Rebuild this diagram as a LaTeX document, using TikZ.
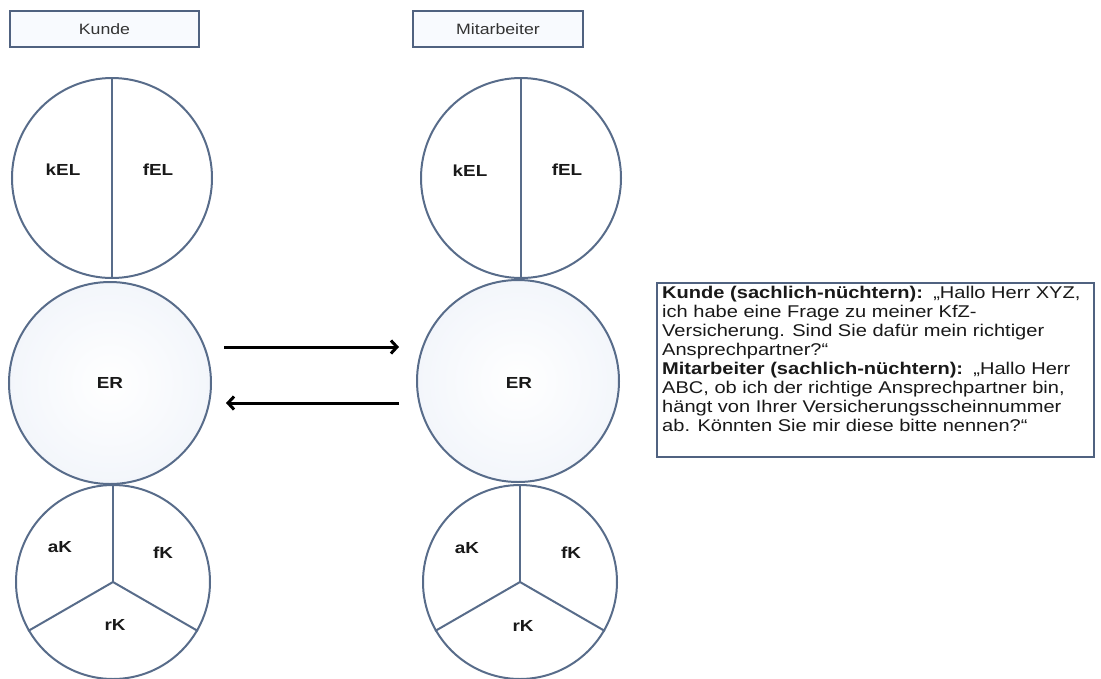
\documentclass[tikz,border=0pt]{standalone}
\usepackage{fontspec}
\setmainfont[FakeStretch=1.18]{Liberation Sans}
\usetikzlibrary{arrows.meta,shapes.geometric}
\definecolor{ring}{RGB}{88,108,138}
\definecolor{boxline}{RGB}{80,98,128}
\definecolor{boxfill}{RGB}{248,250,254}
\definecolor{erfill}{RGB}{243,246,251}
\definecolor{ink}{RGB}{25,25,25}
\tikzset{
  ring/.style={circle, draw=ring, line width=2pt, inner sep=0pt},
  divider/.style={draw=ring, line width=2pt},
  lbl/.style={font=\fontsize{16}{18}\selectfont\bfseries, text=ink, inner sep=0pt},
  titlebox/.style={draw=boxline, line width=1.6pt, fill=boxfill,
    font=\fontsize{15}{17}\selectfont, text=black!80, inner sep=0pt},
  arr/.style={draw=black, line width=3pt, -{Straight Barb[length=6pt,width=13pt,line width=3pt]}},
}
\begin{document}
\begin{tikzpicture}[x=1pt,y=-1pt]
\useasboundingbox (0,0) rectangle (1101,678);

% column headings
\node[titlebox, minimum width=189pt, minimum height=36pt] (hK) at (104.5,29) {Kunde};
\node[titlebox, minimum width=170pt, minimum height=36pt] (hM) at (498,29) {Mitarbeiter};

% ego-state circles, customer column
\node[ring, minimum size=200pt] (elK) at (112,178) {};
\node[ring, minimum size=202pt, inner color=white, outer color=erfill] (erK) at (110,383) {};
\node[ring, minimum size=194pt] (kK) at (113,582) {};

% ego-state circles, employee column
\node[ring, minimum size=200pt] (elM) at (521,178) {};
\node[ring, minimum size=202pt, inner color=white, outer color=erfill] (erM) at (518,381) {};
\node[ring, minimum size=194pt] (kM) at (520,582) {};

% dividing lines
\draw[divider] (elK.north) -- (elK.south);
\draw[divider] (elM.north) -- (elM.south);
\foreach \c in {kK,kM}{
  \draw[divider] (\c.center) -- (\c.north);
  \draw[divider] (\c.center) -- (\c.210);
  \draw[divider] (\c.center) -- (\c.330);
}

% labels
\node[lbl] (kelK) at (63,170) {kEL};
\node[lbl] (felK) at (158,170) {fEL};
\node[lbl] (erlK) at (110,383) {ER};
\node[lbl] (akK) at (60,547) {aK};
\node[lbl] (fkK) at (163,553) {fK};
\node[lbl] (rkK) at (115,625) {rK};

\node[lbl] (kelM) at (470,171) {kEL};
\node[lbl] (felM) at (567,170) {fEL};
\node[lbl] (erlM) at (519,383) {ER};
\node[lbl] (akM) at (467,548) {aK};
\node[lbl] (fkM) at (571,553) {fK};
\node[lbl] (rkM) at (523,626) {rK};

% transactions between the two ER states
\draw[arr] ([shift={(12,-36)}]erK.east) -- ([shift={(-17,-34)}]erM.west);
\draw[arr] ([shift={(-17,22)}]erM.west) -- ([shift={(14,20)}]erK.east);

% dialogue box
\node[draw=boxline, line width=1.5pt, fill=white, anchor=north west,
      minimum width=437pt, minimum height=174pt, inner sep=0pt] (dlg) at (656,282) {};
\node[anchor=north west, inner sep=0pt, align=left, text=ink,
      font=\fontsize{17}{19}\selectfont] (dlgtext) at (662,286)
  {\textbf{Kunde (sachlich-nüchtern):}\, „Hallo Herr XYZ,\\
   ich habe eine Frage zu meiner KfZ-\\
   Versicherung. Sind Sie dafür mein richtiger\\
   Ansprechpartner?“\\
   \textbf{Mitarbeiter (sachlich-nüchtern):}\, „Hallo Herr\\
   ABC, ob ich der richtige Ansprechpartner bin,\\
   hängt von Ihrer Versicherungsscheinnummer\\
   ab. Könnten Sie mir diese bitte nennen?“};
\end{tikzpicture}
\end{document}
